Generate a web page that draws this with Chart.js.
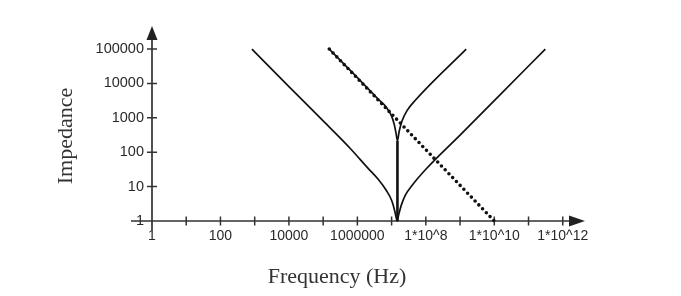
<!DOCTYPE html>
<html>
<head>
<meta charset="utf-8">
<script src="https://cdn.jsdelivr.net/npm/chart.js@4/dist/chart.umd.min.js"></script>
<style>
  body { margin: 0; background: #fff; }
  #wrap { width: 681px; height: 296px; position: relative; }
</style>
</head>
<body>
<div id="wrap"><canvas id="imp"></canvas></div>
<script>
// tick values and labels
const xTickValues = [1, 1e2, 1e4, 1e6, 1e8, 1e10, 1e12];
const xTickLabels = ["1", "100", "10000", "1000000", "1*10^8", "1*10^10", "1*10^12"];
const yTickValues = [1, 10, 100, 1000, 10000, 100000];
const yTickLabels = ["1", "10", "100", "1000", "10000", "100000"];

// wide V curve
const wideFreq = [830, 1e4, 1e5, 6.3e5, 2e6, 4e6, 7.1e6, 1e7, 1.2e7, 1.35e7, 1.45e7, 1.58e7, 1.9e7, 2.5e7, 4e7, 1e8, 1e9, 1e10, 3.1e11];
const wideZ = [1e5, 8100, 810, 126, 35, 16.6, 7.6, 4, 2.2, 1.3, 1, 1.4, 2.8, 5.6, 11, 32, 316, 3160, 1e5];

// narrow notch curve
const notchFreq = [1.51e5, 1e6, 3.98e6, 7.1e6, 1e7, 1.2e7, 1.35e7, 1.48e7, 1.66e7, 2e7, 2.82e7, 5e7, 1.51e9];
const notchZ = [1e5, 14800, 3550, 2000, 1120, 630, 355, 214, 400, 794, 1620, 3300, 1e5];

// vertical drop at resonance
const dropFreq = [1.48e7, 1.48e7];
const dropZ = [214, 1];

// dotted straight line
const dotFreq = [1.51e5, 1e10];
const dotZ = [1e5, 1];

function pts(xs, ys) {
  return xs.map((x, i) => ({ x: x, y: ys[i] }));
}

// axis lines, arrows and tick marks
const axesPlugin = {
  id: "axes",
  beforeDatasetsDraw(chart) {
    const ctx = chart.ctx;
    const xs = chart.scales.x;
    const ys = chart.scales.y;
    const x0 = xs.getPixelForValue(1);
    const y0 = ys.getPixelForValue(1);
    ctx.save();
    ctx.strokeStyle = "#333";
    ctx.fillStyle = "#222";
    ctx.lineWidth = 1.7;
    ctx.beginPath();
    ctx.moveTo(x0 - 21, y0);
    ctx.lineTo(xs.right - 10, y0);
    ctx.moveTo(x0, y0 + 9);
    ctx.lineTo(x0, ys.top + 10);
    ctx.stroke();
    // arrows
    ctx.beginPath();
    ctx.moveTo(xs.right, y0);
    ctx.lineTo(xs.right - 16, y0 - 5.5);
    ctx.lineTo(xs.right - 16, y0 + 5.5);
    ctx.closePath();
    ctx.fill();
    ctx.beginPath();
    ctx.moveTo(x0, ys.top);
    ctx.lineTo(x0 - 5.5, ys.top + 14);
    ctx.lineTo(x0 + 5.5, ys.top + 14);
    ctx.closePath();
    ctx.fill();
    // ticks
    ctx.lineWidth = 1.5;
    ctx.beginPath();
    for (let d = 1; d <= 12; d++) {
      const px = xs.getPixelForValue(Math.pow(10, d));
      ctx.moveTo(px, y0 - 4.5);
      ctx.lineTo(px, y0 + 4.5);
    }
    for (let d = 1; d <= 5; d++) {
      const py = ys.getPixelForValue(Math.pow(10, d));
      ctx.moveTo(x0 - 5, py);
      ctx.lineTo(x0 + 5, py);
    }
    ctx.stroke();
    ctx.restore();
  },
  afterDraw(chart) {
    const ctx = chart.ctx;
    ctx.save();
    ctx.fillStyle = "#333";
    ctx.font = "22px 'Liberation Serif', 'Times New Roman', serif";
    ctx.textAlign = "center";
    ctx.textBaseline = "alphabetic";
    ctx.fillText("Frequency (Hz)", 337, 283);
    ctx.translate(72, 136);
    ctx.rotate(-Math.PI / 2);
    ctx.fillText("Impedance", 0, 0);
    ctx.restore();
  }
};

const lineStyle = {
  borderColor: "#111",
  borderWidth: 1.7,
  pointRadius: 0,
  cubicInterpolationMode: "monotone",
  fill: false,
  clip: false
};

const cfg = {
  type: "line",
  data: {
    datasets: [
      Object.assign({ label: "wide", data: pts(wideFreq, wideZ) }, lineStyle),
      Object.assign({ label: "notch", data: pts(notchFreq, notchZ) }, lineStyle),
      Object.assign({ label: "drop", data: pts(dropFreq, dropZ) }, lineStyle, { borderWidth: 2.6 }),
      Object.assign({ label: "dotted", data: pts(dotFreq, dotZ) }, lineStyle, {
        borderWidth: 3.6,
        borderDash: [0, 5.4],
        borderCapStyle: "round"
      })
    ]
  },
  options: {
    responsive: true,
    maintainAspectRatio: false,
    animation: false,
    layout: { padding: { top: 26, right: 96, left: 0, bottom: 0 } },
    plugins: { legend: { display: false }, tooltip: { enabled: false } },
    scales: {
      x: {
        type: "logarithmic",
        bounds: "data",
        min: 1,
        max: Math.pow(10, 12.65),
        grid: { display: false, drawTicks: false },
        border: { display: false },
        afterBuildTicks: (s) => { s.ticks = xTickValues.map((v) => ({ value: v })); },
        afterFit: (s) => { s.height = 75; },
        ticks: {
          autoSkip: false,
          maxRotation: 0,
          padding: 7,
          color: "#2a2a2a",
          font: { family: "'Liberation Sans', Arial, sans-serif", size: 14 },
          callback: (v, i) => xTickLabels[i]
        }
      },
      y: {
        type: "logarithmic",
        bounds: "data",
        min: 1,
        max: Math.pow(10, 5.67),
        grid: { display: false, drawTicks: false },
        border: { display: false },
        afterBuildTicks: (s) => { s.ticks = yTickValues.map((v) => ({ value: v })); },
        afterFit: (s) => { s.width = 152; },
        ticks: {
          autoSkip: false,
          padding: 8,
          color: "#2a2a2a",
          font: { family: "'Liberation Sans', Arial, sans-serif", size: 14.5 },
          callback: (v, i) => yTickLabels[i]
        }
      }
    }
  },
  plugins: [axesPlugin]
};

new Chart(document.getElementById("imp"), cfg);
</script>
</body>
</html>
